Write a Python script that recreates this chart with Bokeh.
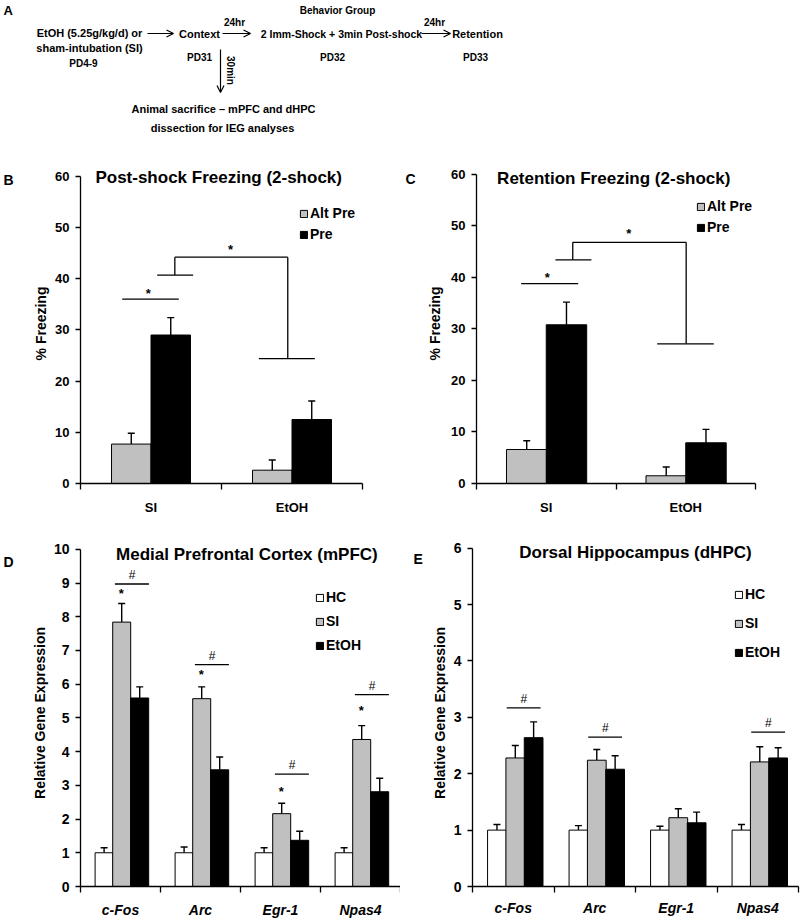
import math
from bokeh.plotting import figure
from bokeh.models import (Range1d, FixedTicker, ColumnDataSource, Whisker, TeeHead,
                          Legend, LegendItem, Label, Arrow, OpenHead)
from bokeh.core.properties import value
from bokeh.layouts import column, row
from bokeh.embed import file_html
from bokeh.resources import INLINE

FONT = "Liberation Sans"
GREY = "#C0C0C0"

# ---------------- data ----------------
freeze_groups = ["SI", "EtOH"]
freeze_ticks = [0, 10, 20, 30, 40, 50, 60]
post_alt_pre = [7.7, 2.6]
post_alt_pre_sem = [2.1, 2.0]
post_pre = [29.0, 12.5]
post_pre_sem = [3.4, 3.6]
ret_alt_pre = [6.6, 1.5]
ret_alt_pre_sem = [1.7, 1.7]
ret_pre = [30.8, 7.9]
ret_pre_sem = [4.4, 2.6]

genes = ["c-Fos", "Arc", "Egr-1", "Npas4"]
mpfc_ticks = [0, 1, 2, 3, 4, 5, 6, 7, 8, 9, 10]
mpfc_hc = [1.0, 1.0, 1.0, 1.0]
mpfc_hc_sem = [0.15, 0.17, 0.15, 0.15]
mpfc_si = [7.84, 5.57, 2.16, 4.36]
mpfc_si_sem = [0.55, 0.35, 0.31, 0.41]
mpfc_etoh = [5.59, 3.46, 1.37, 2.81]
mpfc_etoh_sem = [0.33, 0.38, 0.27, 0.40]
mpfc_star_y = [8.68, 6.28, 2.81, 5.22]
mpfc_hash_y = [8.97, 6.58, 3.33, 5.69]

dhpc_ticks = [0, 1, 2, 3, 4, 5, 6]
dhpc_hc = [1.0, 1.0, 1.0, 1.0]
dhpc_hc_sem = [0.10, 0.08, 0.07, 0.10]
dhpc_si = [2.28, 2.24, 1.22, 2.21]
dhpc_si_sem = [0.22, 0.19, 0.16, 0.27]
dhpc_etoh = [2.64, 2.08, 1.13, 2.28]
dhpc_etoh_sem = [0.28, 0.24, 0.19, 0.18]
dhpc_hash_y = [3.17, 2.65, None, 2.74]

# significance brackets (data units) for B and C
post_brackets = [(0.296, 36.0, 0.697, 36.0), (0.544, 40.7, 0.799, 40.7),
                 (0.669, 40.7, 0.669, 44.2), (0.669, 44.2, 1.470, 44.2),
                 (1.470, 44.2, 1.470, 24.4), (1.265, 24.4, 1.662, 24.4)]
post_stars = [(0.48, 37.1), (1.064, 45.7)]
ret_brackets = [(0.320, 38.8, 0.729, 38.8), (0.566, 43.4, 0.824, 43.4),
                (0.690, 43.4, 0.690, 46.8), (0.690, 46.8, 1.503, 46.8),
                (1.503, 46.8, 1.503, 27.1), (1.295, 27.1, 1.701, 27.1)]
ret_stars = [(0.507, 39.9), (1.092, 48.5)]


def base_fig(w, h, n_cats, ymax, yend, bl, br, bt, bb):
    p = figure(width=w, height=h, x_range=Range1d(0, n_cats), y_range=Range1d(0, yend),
               output_backend="svg", toolbar_location=None, title=None,
               min_border_left=bl, min_border_right=br, min_border_top=bt, min_border_bottom=bb)
    p.grid.visible = False
    p.outline_line_color = None
    p.yaxis[0].bounds = (0, ymax)
    return p


def letter_fig(w, h, x, y, s):
    p = figure(width=w, height=h, x_range=Range1d(0, w), y_range=Range1d(h, 0),
               output_backend="svg", toolbar_location=None, title=None,
               x_axis_type=None, y_axis_type=None,
               min_border_left=0, min_border_right=0, min_border_top=0, min_border_bottom=0)
    p.grid.visible = False
    p.outline_line_color = None
    p.text(x=[x], y=[y], text=[s], text_font=value(FONT), text_font_style="bold",
           text_font_size="14px", text_align="left", text_baseline="middle", text_color="black")
    return p


def style_axes(p, cats, yticks, ylabel, xfs, yfs, xstyle, xstand, ylab_stand):
    n = len(cats)
    xa = p.xaxis[0]
    xa.ticker = FixedTicker(ticks=[i + 0.5 for i in range(n)], minor_ticks=list(range(n + 1)))
    xa.major_label_overrides = {i + 0.5: c for i, c in enumerate(cats)}
    xa.major_tick_out = 0
    xa.major_tick_in = 0
    xa.major_tick_line_color = None
    xa.minor_tick_out = 6
    xa.minor_tick_in = 0
    xa.minor_tick_line_color = "black"
    xa.minor_tick_line_width = 1.3
    xa.axis_line_color = "black"
    xa.axis_line_width = 1.3
    xa.major_label_text_font = FONT
    xa.major_label_text_font_style = xstyle
    xa.major_label_text_font_size = xfs
    xa.major_label_text_color = "black"
    xa.major_label_standoff = xstand

    ya = p.yaxis[0]
    ya.ticker = FixedTicker(ticks=yticks)
    ya.major_tick_out = 5
    ya.major_tick_in = 0
    ya.major_tick_line_color = "black"
    ya.major_tick_line_width = 1.3
    ya.minor_tick_line_color = None
    ya.axis_line_color = "black"
    ya.axis_line_width = 1.3
    ya.major_label_text_font = FONT
    ya.major_label_text_font_style = "bold"
    ya.major_label_text_font_size = yfs
    ya.major_label_text_color = "black"
    ya.major_label_standoff = 6
    ya.axis_label = ylabel
    ya.axis_label_text_font = FONT
    ya.axis_label_text_font_style = "bold"
    ya.axis_label_text_font_size = "14px"
    ya.axis_label_text_color = "black"
    ya.axis_label_standoff = ylab_stand


def bars(p, values, sems, offset, width, color):
    xs = [i + offset for i in range(len(values))]
    src = ColumnDataSource(dict(x=xs, top=values, upper=[v + s for v, s in zip(values, sems)]))
    r = p.vbar(x="x", top="top", bottom=0, width=width, source=src,
               fill_color=color, line_color="black", line_width=1)
    p.add_layout(Whisker(source=src, base="x", lower="top", upper="upper", dimension="height",
                         line_color="black", line_width=1.4,
                         upper_head=TeeHead(size=7, line_color="black", line_width=1.4),
                         lower_head=None))
    return r


def legend(p, items, loc, spacing):
    leg = Legend(items=[LegendItem(label=l, renderers=[r]) for l, r in items],
                 location=loc, orientation="vertical", glyph_width=9, glyph_height=9,
                 label_standoff=2, spacing=spacing, padding=0, margin=0,
                 border_line_color=None, background_fill_alpha=0,
                 label_text_font=FONT, label_text_font_style="bold",
                 label_text_font_size="14px", label_text_color="black",
                 label_height=9, label_width=10)
    p.add_layout(leg)


def text(p, x, y, s, size, style="bold", align="center", angle=0):
    p.add_layout(Label(x=x, y=y, text=s, text_font=FONT, text_font_style=style,
                       text_font_size=size, text_align=align, text_baseline="middle",
                       text_color="black", angle=angle))


def brackets(p, segs, stars):
    p.segment(x0=[s[0] for s in segs], y0=[s[1] for s in segs],
              x1=[s[2] for s in segs], y1=[s[3] for s in segs],
              line_color="black", line_width=1.3)
    for sx, sy in stars:
        text(p, sx, sy, "*", "13px")


# ---------------- Panel A (schematic) ----------------
pa = figure(width=800, height=140, x_range=Range1d(0, 800), y_range=Range1d(140, 0),
            output_backend="svg", toolbar_location=None, title=None,
            x_axis_type=None, y_axis_type=None,
            min_border_left=0, min_border_right=0, min_border_top=0, min_border_bottom=0)
pa.grid.visible = False
pa.outline_line_color = None
text(pa, 3, 10, "A", "13px", align="left")
for s, x, y, fs in [("EtOH (5.25g/kg/d) or", 89, 32, "11px"),
                    ("sham-intubation (SI)", 89, 47, "11px"),
                    ("PD4-9", 83, 63, "10px"),
                    ("Context", 199, 33, "11px"),
                    ("PD31", 199, 57, "10px"),
                    ("24hr", 234, 22, "10px"),
                    ("2 Imm-Shock + 3min Post-shock", 341, 33, "10.5px"),
                    ("Behavior Group", 337, 10, "10px"),
                    ("PD32", 332, 57, "10px"),
                    ("24hr", 434, 22, "10px"),
                    ("Retention", 477, 33, "11px"),
                    ("PD33", 475, 57, "10px"),
                    ("Animal sacrifice \u2013 mPFC and dHPC", 223, 108, "11px"),
                    ("dissection for IEG analyses", 222, 127, "11px")]:
    text(pa, x, y, s, fs)
text(pa, 230, 70, "30min", "10px", angle=-math.pi / 2)
for x0, y0, x1, y1 in [(147, 33, 173, 33), (222, 33, 250, 33), (421, 33, 450, 33), (220, 49, 220, 92)]:
    pa.add_layout(Arrow(end=OpenHead(size=7, line_width=1.2, line_color="black"),
                        x_start=x0, y_start=y0, x_end=x1, y_end=y1,
                        line_color="black", line_width=1.2))

# ---------------- Panel B ----------------
pb = base_fig(384, 378, 2, 60, 62.5, 64, 38, 23, 29)
style_axes(pb, freeze_groups, freeze_ticks, "% Freezing", "13px", "13px", "bold", 10, 3)
rb1 = bars(pb, post_alt_pre, post_alt_pre_sem, 0.36, 0.28, GREY)
rb2 = bars(pb, post_pre, post_pre_sem, 0.64, 0.28, "black")
brackets(pb, post_brackets, post_stars)
legend(pb, [("Alt Pre", rb1), ("Pre", rb2)], (219, 241), 5)
text(pb, 0.98, 59.8, "Post-shock Freezing (2-shock)", "17px")
lb = letter_fig(16, 378, 3, 20, "B")

# ---------------- Panel C ----------------
pc = base_fig(380, 378, 2, 60, 62.1, 56, 45, 18, 35)
style_axes(pc, freeze_groups, freeze_ticks, "% Freezing", "13px", "13px", "bold", 10, 5)
rc1 = bars(pc, ret_alt_pre, ret_alt_pre_sem, 0.36, 0.29, GREY)
rc2 = bars(pc, ret_pre, ret_pre_sem, 0.645, 0.29, "black")
brackets(pc, ret_brackets, ret_stars)
legend(pc, [("Alt Pre", rc1), ("Pre", rc2)], (220, 248), 5)
text(pc, 0.984, 59.2, "Retention Freezing (2-shock)", "17px")
lc = letter_fig(20, 378, 5, 18, "C")

# ---------------- Panel D ----------------
pd_ = base_fig(384, 402, 4, 10, 10.29, 64, 0, 16, 29)
style_axes(pd_, genes, mpfc_ticks, "Relative Gene Expression", "14px", "14px", "bold italic", 9, 3)
rd1 = bars(pd_, mpfc_hc, mpfc_hc_sem, 0.295, 0.225, "white")
rd2 = bars(pd_, mpfc_si, mpfc_si_sem, 0.515, 0.225, GREY)
rd3 = bars(pd_, mpfc_etoh, mpfc_etoh_sem, 0.74, 0.225, "black")
pd_.segment(x0=[i + 0.43 for i in range(4)], y0=mpfc_hash_y,
            x1=[i + 0.855 for i in range(4)], y1=mpfc_hash_y, line_color="black", line_width=1.3)
for i, (hy, sy) in enumerate(zip(mpfc_hash_y, mpfc_star_y)):
    text(pd_, i + 0.645, hy + 0.27, "#", "12px", style="normal")
    text(pd_, i + 0.51, sy, "*", "13px")
legend(pd_, [("HC", rd1), ("SI", rd2), ("EtOH", rd3)], (235, 233), 8)
text(pd_, 2.08, 9.85, "Medial Prefrontal Cortex (mPFC)", "17px")
ld = letter_fig(16, 402, 3, 26, "D")

# ---------------- Panel E ----------------
pe = base_fig(374, 402, 4, 6, 6.155, 46, 2, 21, 24)
style_axes(pe, genes, dhpc_ticks, "Relative Gene Expression", "14px", "14px", "bold italic", 7, 3)
re1 = bars(pe, dhpc_hc, dhpc_hc_sem, 0.30, 0.23, "white")
re2 = bars(pe, dhpc_si, dhpc_si_sem, 0.525, 0.23, GREY)
re3 = bars(pe, dhpc_etoh, dhpc_etoh_sem, 0.75, 0.23, "black")
hx = [i for i, hy in enumerate(dhpc_hash_y) if hy is not None]
hy_ = [hy for hy in dhpc_hash_y if hy is not None]
pe.segment(x0=[i + 0.42 for i in hx], y0=hy_, x1=[i + 0.835 for i in hx], y1=hy_,
           line_color="black", line_width=1.3)
for i, hy in zip(hx, hy_):
    text(pe, i + 0.63, hy + 0.16, "#", "12px", style="normal")
legend(pe, [("HC", re1), ("SI", re2), ("EtOH", re3)], (262, 226), 13)
text(pe, 2.0, 5.92, "Dorsal Hippocampus (dHPC)", "17px")
le = letter_fig(26, 402, 13, 23, "E")

layout = column(pa, row(lb, pb, lc, pc), row(ld, pd_, le, pe))
open("out.html", "w").write(file_html(layout, INLINE, title="IEG figure"))
